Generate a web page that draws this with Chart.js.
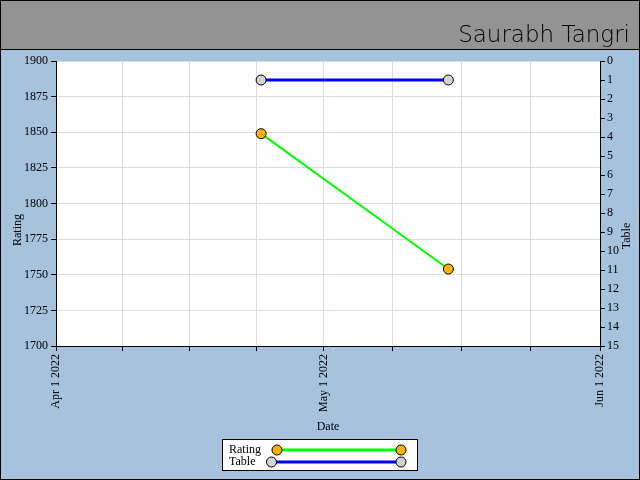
<!DOCTYPE html>
<html><head><meta charset="utf-8">
<script src="https://cdn.jsdelivr.net/npm/chart.js@4/dist/chart.umd.min.js"></script>
<style>html,body{margin:0;padding:0;background:#a6c2dc}canvas{display:block}</style>
</head><body>
<canvas id="c" width="640" height="480"></canvas>
<script>
const titleText = "Saurabh Tangri";
const dates = ["2022-04-24", "2022-05-15"];
const ratingValues = [1849, 1754];
const tableValues = [1, 1];
const xStart = "2022-04-01";
const xEnd = "2022-06-01";
const xTickDays = [0, 7.5, 15, 22.5, 30, 37.75, 45.5, 53.25, 61];
const xTickLabels = {0: "Apr 1 2022", 30: "May 1 2022", 61: "Jun 1 2022"};
const yTitleLeft = "Rating";
const yTitleRight = "Table";

const dayMs = 86400000;
const t0 = Date.parse(xStart + "T00:00:00Z");
const toDay = s => (Date.parse(s + "T00:00:00Z") - t0) / dayMs;
const xMax = toDay(xEnd);

const FONT = "'Liberation Serif', 'DejaVu Serif', serif";

const bgPlugin = {
  id: 'bg',
  beforeDraw(chart) {
    const ctx = chart.ctx, a = chart.chartArea;
    ctx.save();
    ctx.fillStyle = '#a6c2dc';
    ctx.fillRect(0, 0, 640, 480);
    ctx.fillStyle = '#939393';
    ctx.fillRect(0, 0, 640, 50);
    ctx.strokeStyle = '#000';
    ctx.lineWidth = 1;
    ctx.beginPath(); ctx.moveTo(0, 49.5); ctx.lineTo(640, 49.5); ctx.stroke();
    ctx.strokeRect(0.5, 0.5, 639, 479);
    ctx.fillStyle = '#fff';
    ctx.fillRect(a.left, a.top, a.right - a.left, a.bottom - a.top);
    ctx.fillStyle = '#000';
    ctx.font = "200 23px 'DejaVu Sans', sans-serif";
    ctx.textAlign = 'right';
    ctx.textBaseline = 'alphabetic';
    ctx.fillText(titleText, 630, 42);
    ctx.restore();
  },
  afterDraw(chart) {
    const ctx = chart.ctx;
    ctx.save();
    // axis titles, both reading bottom-to-top
    ctx.fillStyle = '#000';
    ctx.font = "12px " + FONT;
    ctx.textAlign = 'center';
    ctx.textBaseline = 'middle';
    [[18, 230, yTitleLeft], [627, 236, yTitleRight]].forEach(([x, y, t]) => {
      ctx.save();
      ctx.translate(x, y);
      ctx.rotate(-Math.PI / 2);
      ctx.fillText(t, 0, 0);
      ctx.restore();
    });
    // legend
    const bx = 222, by = 439, bw = 196, bh = 32;
    ctx.fillStyle = '#fff';
    ctx.fillRect(bx, by, bw, bh);
    ctx.strokeStyle = '#000';
    ctx.lineWidth = 1;
    ctx.strokeRect(bx + 0.5, by + 0.5, bw - 1, bh - 1);
    ctx.textAlign = 'left';
    chart.data.datasets.forEach((ds, i) => {
      const y = by + 11 + i * 12;
      ctx.fillStyle = '#000';
      ctx.fillText(ds.label, 229, y);
      const x1 = 229 + ctx.measureText(ds.label).width + 16;
      const x2 = 401;
      ctx.strokeStyle = ds.borderColor;
      ctx.lineWidth = 3;
      ctx.beginPath(); ctx.moveTo(x1, y); ctx.lineTo(x2, y); ctx.stroke();
      [x1, x2].forEach(x => {
        ctx.beginPath(); ctx.arc(x, y, 5, 0, Math.PI * 2);
        ctx.fillStyle = ds.pointBackgroundColor; ctx.fill();
        ctx.strokeStyle = '#000'; ctx.lineWidth = 1; ctx.stroke();
      });
    });
    ctx.restore();
  }
};

new Chart(document.getElementById('c'), {
  type: 'line',
  data: {
    datasets: [
      {
        label: 'Rating',
        data: dates.map((d, i) => ({x: toDay(d), y: ratingValues[i]})),
        borderColor: '#00ff00', borderWidth: 2,
        pointBackgroundColor: '#ffb300', pointBorderColor: '#000', pointBorderWidth: 1,
        pointRadius: 5, yAxisID: 'y'
      },
      {
        label: 'Table',
        data: dates.map((d, i) => ({x: toDay(d), y: tableValues[i]})),
        borderColor: '#0000ff', borderWidth: 3,
        pointBackgroundColor: '#d3d3d3', pointBorderColor: '#000', pointBorderWidth: 1,
        pointRadius: 5, yAxisID: 'y2'
      }
    ]
  },
  options: {
    responsive: false,
    animation: false,
    layout: {padding: {top: 61, left: 0, right: 0, bottom: 46}},
    plugins: {legend: {display: false}, tooltip: {enabled: false}, title: {display: false}},
    scales: {
      x: {
        type: 'linear', min: 0, max: xMax,
        afterBuildTicks: s => { s.ticks = xTickDays.map(v => ({value: v})); },
        afterFit: s => { s.height = 88; },
        ticks: {
          autoSkip: false, minRotation: 90, maxRotation: 90, color: '#000',
          font: {family: FONT, size: 12},
          callback: v => xTickLabels[v] || ''
        },
        grid: {color: '#dcdcdc', tickColor: '#000', tickLength: 5},
        border: {color: '#000', width: 1},
        title: {display: true, text: 'Date', color: '#000', font: {family: FONT, size: 12}, padding: {top: 0, bottom: 0}}
      },
      y: {
        position: 'left', min: 1700, max: 1900,
        afterFit: s => { s.width = 56; },
        ticks: {stepSize: 25, color: '#000', font: {family: FONT, size: 12}, padding: 3, callback: v => String(v)},
        grid: {color: '#dcdcdc', tickColor: '#000', tickLength: 5},
        border: {color: '#000', width: 1},
        title: {display: false}
      },
      y2: {
        position: 'right', min: 0, max: 15, reverse: true,
        afterFit: s => { s.width = 40; },
        ticks: {stepSize: 1, color: '#000', font: {family: FONT, size: 12}, padding: 2},
        grid: {drawOnChartArea: false, tickColor: '#000', tickLength: 5},
        border: {color: '#000', width: 1},
        title: {display: false}
      }
    }
  },
  plugins: [bgPlugin]
});
</script>
</body></html>
